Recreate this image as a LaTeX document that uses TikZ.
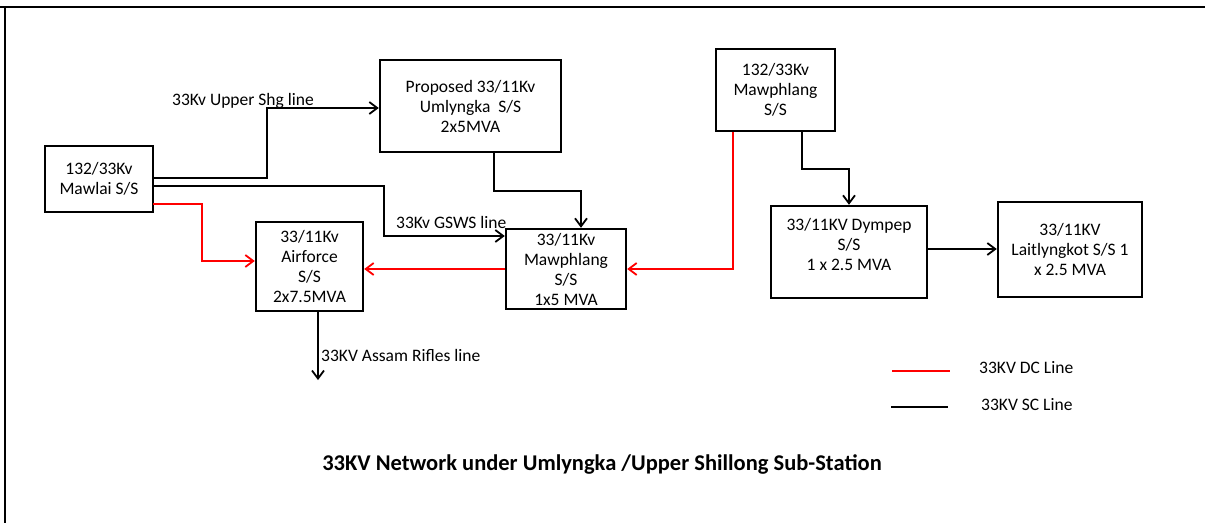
\documentclass[tikz,border=0pt]{standalone}
\usepackage{fontspec}
\setmainfont{Carlito}
\usetikzlibrary{arrows.meta,calc}
\begin{document}
\begin{tikzpicture}[x=1pt,y=-1pt,
  box/.style={draw,line width=2.4pt,inner sep=0pt,align=center,font=\fontsize{17.5}{20}\selectfont},
  sc/.style={line width=1.8pt,black},
  dc/.style={line width=1.8pt,red},
  arr/.style={-{Straight Barb[length=8pt,width=12pt]}},
  lbl/.style={font=\fontsize{17.5}{20}\selectfont,inner sep=0pt,anchor=west},
  frame/.style={line width=2pt,black}]
\useasboundingbox (0,0) rectangle (1205,523);
% frame
\coordinate (ftl) at (5,7);
\coordinate (ftr) at (1205,7);
\coordinate (fbl) at (5,523);
\draw[frame] (0,7) -- (ftr);
\draw[frame] (ftl) -- (fbl);
% boxes
\node[box,minimum width=108pt,minimum height=66pt] (mawlai) at (99,179) {132/33Kv\\Mawlai S/S};
\node[box,minimum width=181pt,minimum height=92pt] (uml) at (470.5,106) {Proposed 33/11Kv\\Umlyngka\ \ S/S\\2x5MVA};
\node[box,minimum width=107pt,minimum height=89pt] (air) at (309.5,266.5) {33/11Kv\\Airforce\\S/S\\2x7.5MVA};
\node[box,minimum width=120pt,minimum height=80pt] (maw33) at (566,269) {33/11Kv\\Mawphlang\\S/S\\1x5 MVA};
\node[box,minimum width=119pt,minimum height=82pt] (maw132) at (775.5,90) {132/33Kv\\Mawphlang\\S/S};
\node[box,minimum width=156pt,minimum height=92pt] (dym) at (849,252) {33/11KV Dympep\\S/S\\1 x 2.5 MVA\\[-4pt]~};
\node[box,minimum width=144pt,minimum height=95pt] (lait) at (1070,249.5) {33/11KV\\Laitlyngkot S/S 1\\x 2.5 MVA};
% connectors
\draw[sc,arr] ($(mawlai.east)+(0,-1)$) -- ++(113,0) |- ($(uml.west)+(0,2)$);
\node[lbl] (lupper) at (172,101) {33Kv Upper Shg line};
\coordinate (gsws) at (384,236);
\draw[sc,arr] ($(mawlai.east)+(0,7)$) -| (gsws) -- (gsws -| maw33.west);
\node[lbl] (lgsws) at (396,222) {33Kv GSWS line};
\draw[dc,arr] ($(mawlai.east)+(-1,25)$) -| ($(air.west)+(-53,-5.5)$) -- ($(air.west)+(0,-5.5)$);
\draw[sc,arr] ($(uml.south)+(23.5,0)$) -- ++(0,38) -| ($(maw33.north)+(15,0)$);
\draw[dc,arr] (maw33.west) -- (maw33.west -| air.east);
\coordinate (assam) at (318,380);
\draw[sc,arr] (air.south -| assam) -- (assam);
\node[lbl] (lassam) at (321,355) {33KV Assam Rifles line};
\draw[dc,arr] ($(maw132.south)+(-42.5,0)$) |- (maw33.east);
\draw[sc,arr] ($(maw132.south)+(26.5,0)$) -- ++(0,37) -| (dym.north);
\draw[sc,arr] ($(dym.east)+(0,-3)$) -- ($(lait.west)+(0,-0.5)$);
% legend
\coordinate (ldc1) at (892,371);
\coordinate (ldc2) at (950,371);
\coordinate (lsc1) at (891,407);
\coordinate (lsc2) at (948,407);
\draw[dc] (ldc1) -- (ldc2);
\draw[sc] (lsc1) -- (lsc2);
\node[lbl] (tdc) at (979,368) {33KV DC Line};
\node[lbl] (tsc) at (981,405) {33KV SC Line};
% title
\node[font=\bfseries\fontsize{22.5}{26}\selectfont,inner sep=0pt] (title) at (602,464) {33KV Network under Umlyngka /Upper Shillong Sub-Station};
\end{tikzpicture}
\end{document}
